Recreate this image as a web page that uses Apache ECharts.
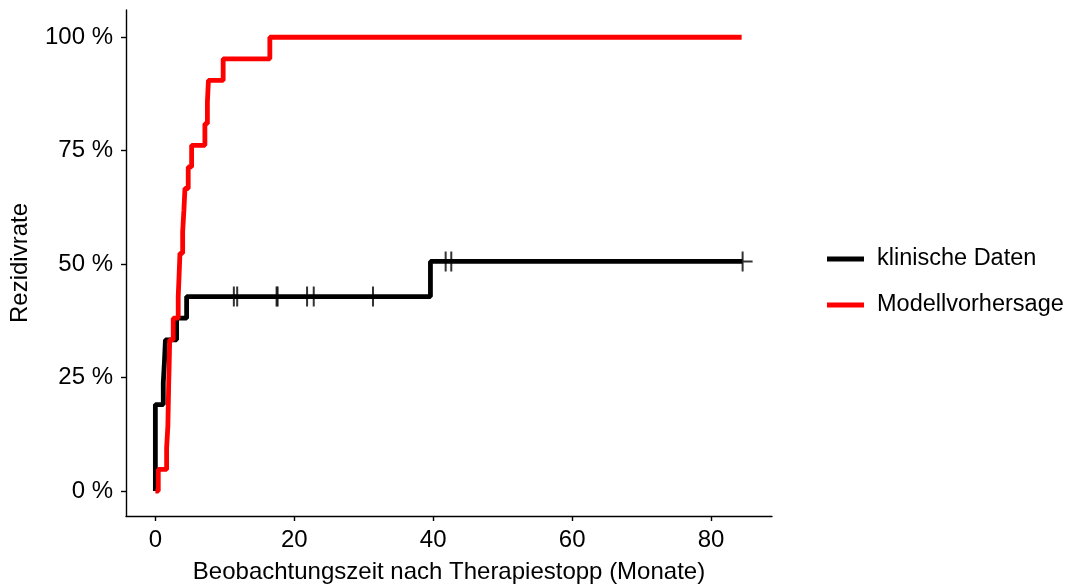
<!DOCTYPE html>
<html>
<head>
<meta charset="utf-8">
<script src="https://cdn.jsdelivr.net/npm/echarts@6/dist/echarts.min.js"></script>
<style>html,body{margin:0;padding:0;background:#fff;}#c{width:1073px;height:585px;}</style>
</head>
<body>
<div id="c"></div>
<script>
// Clinical data (Kaplan-Meier cumulative event curve)
const clinTimes = [0, 0, 1.14, 1.31, 1.45, 3.06, 4.5, 39.6, 84.5];
const clinRates = [0, 19.05, 23.81, 28.57, 33.33, 38.10, 42.86, 50.6, 50.6];
// Censoring marks of clinical data
const censTimes = [11.3, 11.78, 17.45, 17.6, 21.84, 22.8, 31.33, 41.79, 42.6, 84.54];
const censRates = [42.86, 42.86, 42.86, 42.86, 42.86, 42.86, 42.86, 50.6, 50.6, 50.6];
// Model prediction
const modelTimes = [0, 0.42, 1.62, 1.8, 1.86, 1.92, 2.0, 2.06, 2.57, 3.29, 3.42, 3.54, 3.93, 4.11, 4.26, 4.73, 5.22, 7.13, 7.49, 7.64, 9.76, 16.48, 84.4];
const modelRates = [0, 4.76, 9.52, 14.29, 19.05, 23.81, 28.57, 33.33, 38.10, 42.86, 47.62, 52.38, 57.14, 61.90, 66.67, 71.43, 76.19, 80.95, 85.71, 90.48, 95.24, 100, 100];
// Axis ticks
const xTicks = [0, 20, 40, 60, 80];
const yTicks = [0, 25, 50, 75, 100];
const seriesNames = ['klinische Daten', 'Modellvorhersage'];

const zip = (a, b) => a.map((v, i) => [v, b[i]]);
const font = 'Liberation Sans';
const plusPath = 'path://M9,0h2v9h9v2h-9v9h-2v-9h-9v-2h9z';

const chart = echarts.init(document.getElementById('c'), null, {renderer: 'canvas'});
chart.setOption({
  animation: false,
  backgroundColor: '#fff',
  textStyle: {fontFamily: font},
  grid: {left: 126, right: 301, top: 10, bottom: 69, containLabel: false, outerBoundsMode: 'none'},
  legend: {
    orient: 'vertical', left: 822, top: 241,
    data: seriesNames,
    icon: 'rect', itemWidth: 37, itemHeight: 5, itemGap: 20,
    textStyle: {fontFamily: font, fontSize: 23.5, color: '#000', lineHeight: 26, padding: [0, 0, 0, 8]}
  },
  xAxis: {
    type: 'value', min: -4.227, max: 88.77,
    name: 'Beobachtungszeit nach Therapiestopp (Monate)',
    nameLocation: 'middle', nameGap: 44,
    nameTextStyle: {fontFamily: font, fontSize: 24, color: '#000'},
    axisLine: {show: true, onZero: false, lineStyle: {color: '#000', width: 1.4}},
    axisTick: {show: true, length: 5, lineStyle: {color: '#000', width: 1.4}, customValues: xTicks},
    axisLabel: {fontFamily: font, fontSize: 24, color: '#000', margin: 12, customValues: xTicks},
    splitLine: {show: false}
  },
  yAxis: {
    type: 'value', min: -5.5, max: 106,
    name: 'Rezidivrate', nameLocation: 'middle', nameGap: 94,
    nameTextStyle: {fontFamily: font, fontSize: 24, color: '#000'},
    axisLine: {show: true, onZero: false, lineStyle: {color: '#000', width: 1.4}},
    axisTick: {show: true, length: 5, lineStyle: {color: '#000', width: 1.4}, customValues: yTicks},
    axisLabel: {fontFamily: font, fontSize: 24, color: '#000', margin: 13, customValues: yTicks,
      formatter: v => v + ' %'},
    splitLine: {show: false}
  },
  series: [
    {
      name: seriesNames[0], type: 'line', step: 'end', showSymbol: false, symbol: 'none',
      data: zip(clinTimes, clinRates), color: '#000',
      lineStyle: {color: '#000', width: 4.8}, z: 2
    },
    {
      name: 'censor', type: 'scatter', data: zip(censTimes, censRates),
      symbol: plusPath, symbolSize: [20, 20], itemStyle: {color: '#000'}, z: 3
    },
    {
      name: seriesNames[1], type: 'line', step: 'end', showSymbol: false, symbol: 'none',
      data: zip(modelTimes, modelRates), color: '#ff0000',
      lineStyle: {color: '#ff0000', width: 4.8}, z: 4
    }
  ]
});
</script>
</body>
</html>
